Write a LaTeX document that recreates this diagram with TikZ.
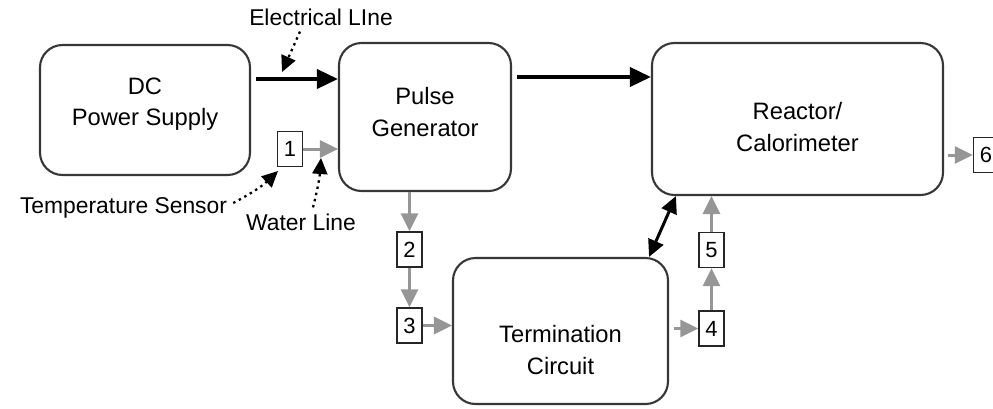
\documentclass[tikz,border=0pt]{standalone}
\usepackage{fontspec}
\setmainfont{Liberation Sans}
\usetikzlibrary{arrows.meta, positioning, calc}
\definecolor{flowgray}{RGB}{150,150,150}
\definecolor{edgegray}{RGB}{55,55,55}

\begin{document}
\begin{tikzpicture}[
  unit/.style={draw=edgegray, line width=1.2pt, rounded corners=0.45cm, minimum width=#1, inner sep=0pt},
  unittxt/.style={align=center, font=\fontsize{13.5}{18}\selectfont},
  tag/.style={draw=black!85, line width=0.8pt, fill=white, minimum width=0.5cm, minimum height=0.7cm, inner sep=0pt, font=\fontsize{12.5}{14}\selectfont},
  note/.style={font=\fontsize{13}{15}\selectfont},
  power/.style={line width=2.2pt, -{Triangle[length=0.42cm, width=0.38cm]}},
  water/.style={flowgray, line width=1.7pt, -{Triangle[length=0.36cm, width=0.34cm]}},
  pointer/.style={black, line width=1.3pt, dash pattern=on 1.4pt off 2.2pt, -{Triangle[length=0.32cm, width=0.3cm]}},
]
  \useasboundingbox (0,0) rectangle (19.86,-8.16);

  % Main blocks
  \node[unit=4.2cm, minimum height=2.6cm] (dc) at (2.9, -2.2) {};
  \node[unit=3.44cm, minimum height=2.96cm] (pulse) at (8.5, -2.34) {};
  \node[unit=5.82cm, minimum height=3.04cm] (reactor) at (15.95, -2.38) {};
  \node[unit=4.3cm, minimum height=2.92cm] (term) at (11.21, -6.62) {};

  \node[unittxt] (dctxt) at ([yshift=0.12cm]dc.center) {DC\\Power Supply};
  \node[unittxt] (pulsetxt) at ([yshift=0.1cm]pulse.center) {Pulse\\Generator};
  \node[unittxt] (reactortxt) at ([yshift=-0.16cm]reactor.center) {Reactor/\\Calorimeter};
  \node[unittxt] (termtxt) at ([yshift=-0.38cm]term.center) {Termination\\Circuit};

  % Temperature sensors
  \node[tag] (t1) at (5.8, -2.98) {1};
  \node[tag] (t2) at (8.19, -4.99) {2};
  \node[tag] (t3) at (8.19, -6.51) {3};
  \node[tag] (t4) at (14.23, -6.57) {4};
  \node[tag] (t5) at (14.23, -5.0) {5};
  \node[tag] (t6) at (19.72, -3.1) {6};

  % Electrical lines
  \draw[power] ([xshift=3pt]dc.east |- 0,-1.58) -- (pulse.west |- 0,-1.58);
  \draw[power] ([xshift=3pt]pulse.east |- 0,-1.54) -- (reactor.west |- 0,-1.54);
  \draw[line width=1.7pt, {Triangle[length=0.34cm, width=0.32cm]}-{Triangle[length=0.34cm, width=0.32cm]}]
    ([xshift=-0.4cm]term.north east) -- ([xshift=0.5cm]reactor.south west);

  % Water line
  \draw[water] (t1.east) -- (pulse.west |- t1);
  \draw[water] (t2 |- pulse.south) -- (t2.north);
  \draw[water] (t2.south) -- (t3.north);
  \draw[water] (t3.east) -- (term.west |- t3);
  \draw[water] ([xshift=3pt]term.east |- t4) -- (t4.west);
  \draw[water] (t4.north) -- (t5.south);
  \draw[water] (t5.north) -- (t5 |- reactor.south);
  \draw[water] ([xshift=2pt]reactor.east |- t6) -- (t6.west);

  % Legend notes
  \node[note] (elec) at (6.42, -0.34) {Electrical LIne};
  \node[note] (sensor) at (2.47, -4.16) {Temperature Sensor};
  \node[note] (wline) at (6.02, -4.44) {Water Line};

  \coordinate (elecend) at (5.64, -1.44);
  \coordinate (sensend) at (5.56, -3.42);
  \coordinate (wlineend) at (6.42, -3.16);
  \draw[pointer] ([xshift=-0.42cm]elec.south) -- (elecend);
  \draw[pointer] ([yshift=0.1cm]sensor.east) to[bend right=8] (sensend);
  \draw[pointer] ([xshift=0.24cm]wline.north) to[bend right=5] (wlineend);
\end{tikzpicture}
\end{document}
